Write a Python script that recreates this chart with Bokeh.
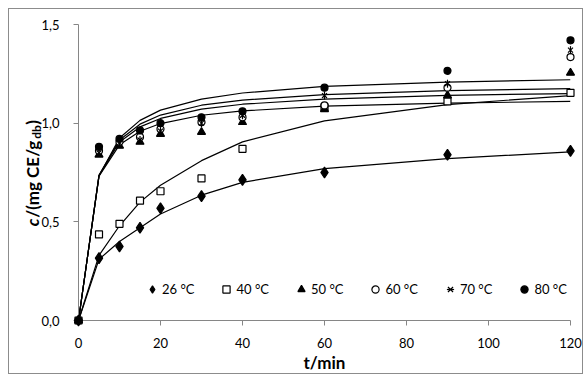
from math import pi
from bokeh.plotting import figure
from bokeh.models import (Range1d, FixedTicker, CustomJSTickFormatter, Legend,
                          LegendItem)
from bokeh.core.properties import value
from bokeh.embed import file_html
from bokeh.resources import INLINE

# ---- data -----------------------------------------------------------------
t_min = [0, 5, 10, 15, 20, 30, 40, 60, 90, 120]
labels = ["26 °C", "40 °C", "50 °C", "60 °C", "70 °C", "80 °C"]

# measured values
c26 = [0, 0.316, 0.375, 0.47, 0.569, 0.63, 0.713, 0.75, 0.84, 0.86]
c40 = [0, 0.436, 0.49, 0.607, 0.655, 0.72, 0.87, 1.08, 1.11, 1.154]
c50 = [0, 0.84, 0.885, 0.905, 0.945, 0.955, 1.005, 1.07, 1.14, 1.255]
c60 = [0, 0.86, 0.905, 0.93, 0.97, 1.005, 1.03, 1.09, 1.18, 1.335]
c70 = [0, 0.85, 0.90, 0.915, 0.96, 1.00, 1.04, 1.14, 1.20, 1.37]
c80 = [0, 0.88, 0.92, 0.963, 1.0, 1.03, 1.06, 1.18, 1.265, 1.42]

# model (fitted) curves, read at the same times
m26 = [0, 0.31, 0.40, 0.47, 0.54, 0.635, 0.70, 0.77, 0.82, 0.855]
m40 = [0, 0.33, 0.48, 0.60, 0.685, 0.81, 0.905, 1.012, 1.094, 1.14]
m50 = [0, 0.732, 0.89, 0.959, 0.998, 1.040, 1.062, 1.086, 1.102, 1.11]
m60 = [0, 0.734, 0.905, 0.981, 1.024, 1.071, 1.096, 1.122, 1.141, 1.15]
m70 = [0, 0.737, 0.915, 0.995, 1.041, 1.091, 1.117, 1.145, 1.165, 1.175]
m80 = [0, 0.732, 0.925, 1.014, 1.066, 1.122, 1.153, 1.186, 1.208, 1.22]

x_ticks = [0, 20, 40, 60, 80, 100, 120]
y_ticks = [0, 0.5, 1.0, 1.5]
x_title = "t/min"

measured = [c26, c40, c50, c60, c70, c80]
models = [m26, m40, m50, m60, m70, m80]

FONT = "Lato"
AX = "#868686"

W, H = 575, 366
BL, BR, BT, BB = 69, 14, 15, 55
p = figure(width=W, height=H, output_backend="svg", toolbar_location=None,
           x_range=Range1d(x_ticks[0], x_ticks[-1]),
           y_range=Range1d(y_ticks[0], y_ticks[-1]),
           min_border_left=BL, min_border_right=BR, min_border_top=BT,
           min_border_bottom=BB)
p.margin = (8, 0, 0, 8)
p.styles = {"border": "1px solid #8c8c8c"}
p.outline_line_color = None
p.xgrid.visible = False
p.ygrid.visible = False
p.background_fill_color = "white"
p.border_fill_color = "white"

for ax in (p.xaxis[0], p.yaxis[0]):
    ax.axis_line_color = AX
    ax.major_tick_line_color = AX
    ax.minor_tick_line_color = None
    ax.major_tick_out = 5
    ax.major_tick_in = 0
    ax.major_label_text_font = FONT
    ax.major_label_text_font_size = "13px"
    ax.major_label_text_color = "#000000"

p.xaxis.ticker = FixedTicker(ticks=x_ticks)
p.yaxis.ticker = FixedTicker(ticks=y_ticks)
p.yaxis.formatter = CustomJSTickFormatter(code="return tick.toFixed(1).replace('.', ',');")
p.xaxis.major_label_standoff = 12
p.yaxis.major_label_standoff = 14

p.xaxis.axis_label = x_title
p.xaxis.axis_label_text_font = FONT
p.xaxis.axis_label_text_font_style = "bold"
p.xaxis.axis_label_text_font_size = "17px"
p.xaxis.axis_label_text_color = "black"
p.xaxis.axis_label_standoff = 1

# fitted curves
for m in models:
    p.line(t_min, m, line_color="black", line_width=1.2)

# measured points
specs = [
    dict(marker="diamond", size=11, fill_color="black"),
    dict(marker="square", size=7, fill_color="white"),
    dict(marker="triangle", size=8, fill_color="black"),
    dict(marker="circle", size=7, fill_color="white"),
    dict(marker="x", size=7, fill_color="black"),
    dict(marker="circle", size=7, fill_color="black"),
]
items = []
for i, (lab, c, sp) in enumerate(zip(labels, measured, specs)):
    rs = [p.scatter(t_min, c, line_color="black", line_width=1.2, level="overlay", **sp)]
    if i == 4:
        rs.append(p.scatter(t_min, c, marker="dash", size=8, angle=pi / 2,
                            line_color="black", line_width=1.2, level="overlay"))
    items.append(LegendItem(label=lab, renderers=rs))

legend = Legend(items=items, orientation="horizontal", location=(65, 22),
                padding=0, margin=0, spacing=23, glyph_width=18, glyph_height=18,
                label_height=18, label_standoff=1, border_line_color=None,
                background_fill_alpha=0, label_text_font=FONT,
                label_text_font_size="13px", label_text_color="black")
p.add_layout(legend)

# y axis title built from pieces (italic c, subscript db); pixel distances are
# converted to data units through the frame size
fw = W - BL - BR
fh = H - BT - BB
px_x = (x_ticks[-1] - x_ticks[0]) / fw
px_y = (y_ticks[-1] - y_ticks[0]) / fh
y_mid = (y_ticks[0] + y_ticks[-1]) / 2
x_lab = x_ticks[0] - 46 * px_x
pieces = [
    ("c", "bold italic", "17px", 0, 8.5),
    (" /(mg CE/g", "bold", "17px", 0, 79.0),
    ("db", "bold", "12px", 4, 14.0),
    (")", "bold", "17px", 0, 6.0),
]
total = sum(w for *_, w in pieces)
pos = y_mid - total / 2 * px_y
for txt, style, size, dx, w in pieces:
    p.text(x=[x_lab + dx * px_x], y=[pos], text=[txt],
           angle=pi / 2, text_align="left", text_baseline="middle",
           text_font=value(FONT), text_font_style=style, text_font_size=size,
           text_color="black", level="overlay")
    pos += w * px_y

open("out.html", "w").write(file_html(p, INLINE))
